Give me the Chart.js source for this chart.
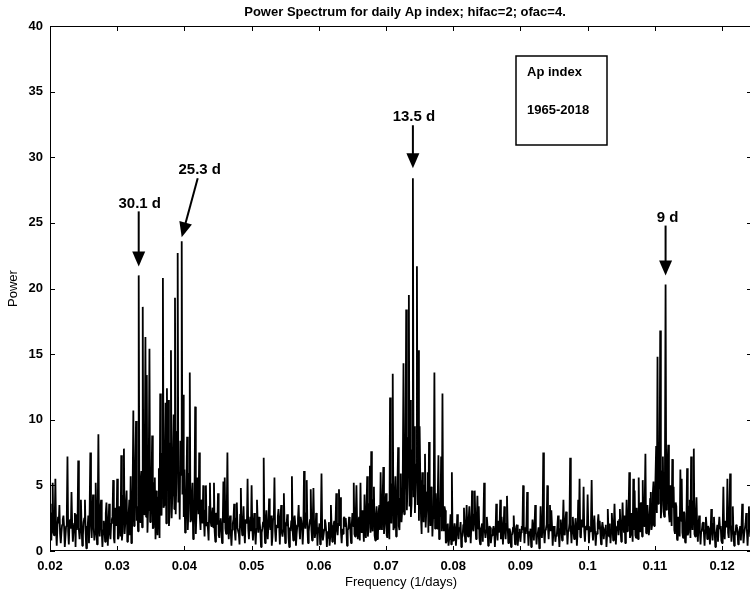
<!DOCTYPE html>
<html><head><meta charset="utf-8">
<script src="https://cdn.jsdelivr.net/npm/chart.js@4.4.1/dist/chart.umd.min.js"></script>
<style>
html,body{margin:0;padding:0;background:#fff;overflow:hidden;width:750px;height:597px}
#wrap{position:relative;width:753px;height:597px}
canvas{display:block}
</style></head><body>
<div id="wrap"><canvas id="c" width="753" height="597"></canvas></div>
<script>
// frequency bands (1/days); each band holds power values sampled every 0.0001 1/days
const bandStarts = [0.02,0.03,0.04,0.05,0.06,0.07,0.08,0.09,0.10,0.11,0.12];
const freqStep = 0.0001;
const band0 = [3.6,1.9,0.8,2.9,5.2,1.4,1.2,2.3,5.5,1.6,0.4,1.8,2.6,2.1,3.5,1.3,0.6,1.4,2.0,2.4,
2.7,1.8,0.3,1.1,1.9,2.6,7.2,1.5,0.5,2.2,2.4,1.7,4.5,2.0,0.7,1.5,2.1,2.9,0.3,2.8,
1.6,2.2,6.9,1.6,0.9,1.7,3.9,1.9,0.4,1.2,2.2,2.5,3.9,1.4,0.2,1.9,1.8,2.7,0.6,3.1,
7.5,2.1,1.0,2.5,4.3,1.8,0.8,1.3,5.2,2.4,0.5,2.7,8.9,1.9,1.1,3.2,3.9,1.5,0.3,1.6,
2.3,1.7,0.7,2.9,3.7,2.2,0.4,1.8,3.6,1.4,0.9,2.1,2.4,2.6,5.4,1.0,0.6,3.3,2.8,1.9];
const band1 = [5.5,0.9,1.0,3.4,3.2,1.1,7.3,0.8,1.5,4.2,7.8,1.3,2.1,3.6,4.6,0.7,0.9,2.8,3.9,1.2,
5.7,0.6,1.4,4.8,10.7,1.9,2.6,6.4,9.9,2.3,3.4,1.5,21.0,2.7,2.2,5.3,6.1,1.8,18.6,3.0,
2.8,7.1,16.3,2.6,13.4,1.4,3.1,6.8,15.4,2.2,2.5,4.9,8.8,1.7,1.8,5.2,5.6,0.9,4.6,2.4,
1.2,4.1,6.3,1.0,12.0,2.9,2.7,7.4,20.8,3.3,3.5,6.5,11.3,2.1,12.4,4.6,11.5,1.9,3.0,8.2,
15.3,2.5,4.2,6.9,10.4,3.2,19.3,2.8,5.1,9.1,22.7,3.7,6.0,2.4,8.4,5.8,23.6,4.3,11.9,2.6];
const band2 = [6.2,1.4,2.0,4.7,8.7,1.6,3.1,5.9,13.6,2.2,2.4,4.1,5.2,0.9,1.8,3.8,11.0,1.3,2.9,5.6,
4.5,2.8,7.5,2.6,1.6,3.9,3.8,2.1,5.0,2.4,1.1,3.1,5.0,1.9,2.2,1.7,0.8,3.4,5.2,2.3,
1.9,2.7,3.3,1.8,5.2,1.5,0.7,2.9,2.8,2.0,4.4,1.2,1.0,2.3,2.5,1.6,0.6,1.9,5.3,2.2,
5.6,1.7,1.3,3.0,7.5,1.9,0.9,2.2,2.7,1.4,0.4,1.6,2.1,2.4,3.6,1.5,0.8,2.5,3.7,1.8,
1.5,1.3,0.5,2.8,4.8,2.0,1.2,1.9,3.4,1.6,0.6,2.4,2.3,2.1,5.5,1.7,0.9,2.0,2.6,1.5];
const band3 = [5.0,1.8,0.8,2.1,2.9,1.5,0.5,1.7,3.9,2.3,1.4,2.6,2.2,1.6,0.3,1.4,1.7,2.2,7.1,1.9,
0.6,2.3,3.1,1.7,0.9,1.9,4.0,2.2,1.6,2.7,0.4,1.1,2.5,2.4,5.6,1.5,0.7,2.0,1.8,2.6,
3.2,1.9,0.5,2.5,3.5,1.4,1.1,1.6,4.4,2.1,0.6,2.2,1.9,2.8,2.4,1.0,0.3,1.8,1.5,2.3,
5.7,1.6,0.8,2.4,2.7,2.0,0.4,1.3,1.9,2.5,3.5,1.7,0.9,2.6,2.3,1.8,0.5,1.7,6.1,2.2,
1.7,2.9,5.4,1.9,0.6,1.5,2.0,2.4,4.7,1.6,0.8,2.2,4.8,2.0,1.0,1.4,2.9,2.3,0.4,1.8];
const band4 = [1.4,2.1,0.5,1.9,5.9,1.7,0.8,1.2,1.6,2.4,2.1,1.5,0.3,1.5,1.0,2.2,0.4,1.1,3.5,1.8,
0.7,1.8,2.0,2.3,0.5,2.4,4.4,1.6,1.2,2.1,4.7,1.9,4.1,1.4,0.6,1.7,1.3,2.5,2.6,1.9,
2.5,1.8,0.4,1.6,1.7,2.6,2.4,1.5,0.6,2.0,2.9,1.9,5.2,1.3,1.1,2.8,5.0,2.1,0.9,2.3,
2.6,0.8,5.2,1.5,1.4,3.1,2.2,0.7,4.3,1.9,1.0,3.3,5.7,1.1,1.8,3.6,6.5,1.4,7.6,2.2,
1.5,3.9,4.9,1.2,0.8,2.7,3.4,0.9,1.2,3.0,3.5,1.6,6.0,2.1,1.6,4.0,6.4,1.3,2.0,3.5];
const band5 = [4.4,1.2,1.0,3.7,3.8,0.9,11.7,2.4,2.1,5.1,13.5,1.6,1.8,4.3,5.7,1.1,2.4,4.8,7.9,1.9,
1.6,4.0,5.9,2.2,3.0,6.3,14.3,2.8,4.2,7.0,18.4,3.1,5.0,8.6,19.5,3.4,11.5,2.6,3.6,7.7,
28.4,4.1,9.5,2.9,4.8,6.6,21.7,3.5,15.3,2.3,9.5,5.4,2.7,1.3,6.0,3.2,2.2,5.0,7.4,1.8,
3.1,4.5,6.0,1.4,8.3,3.6,1.9,4.9,4.4,1.1,2.5,3.8,13.6,1.7,4.4,2.9,1.7,4.2,7.3,0.9,
3.3,2.6,7.2,1.5,12.0,2.3,1.5,3.4,3.1,0.6,0.7,2.0,2.1,0.4,0.9,1.7,2.8,0.5,6.0,1.2];
const band6 = [0.8,1.5,2.1,1.7,0.4,1.2,2.8,1.9,0.9,1.8,1.6,2.2,0.3,1.0,1.2,2.0,3.3,1.4,0.7,2.0,
3.5,1.6,1.1,2.4,3.4,2.0,0.6,1.9,4.6,1.8,1.5,2.8,4.6,2.1,0.9,2.2,4.2,1.7,3.4,1.0,
0.5,1.7,1.8,2.1,0.7,2.5,5.2,1.5,1.0,1.6,2.6,1.9,0.4,1.3,1.9,1.8,0.6,1.1,1.2,1.6,
1.9,1.5,0.3,1.4,3.6,1.8,0.8,2.3,1.4,2.0,3.9,0.9,2.6,1.7,0.5,1.8,3.4,1.6,0.9,2.1,
4.2,1.9,0.6,1.6,1.7,1.4,0.3,1.2,1.3,1.8,2.7,1.5,0.5,1.5,1.9,2.0,0.4,1.1,1.4,1.7];
const band7 = [0.7,1.4,1.9,1.6,5.0,1.9,0.6,1.8,1.3,2.0,4.5,1.5,0.4,1.5,1.2,1.7,0.3,1.1,2.4,1.8,
0.8,1.9,3.5,1.5,0.5,1.3,1.4,1.8,0.2,0.9,3.4,1.6,1.0,2.2,7.5,1.4,0.6,1.6,1.7,2.0,
5.0,1.8,0.9,2.0,3.5,1.5,3.1,1.9,0.4,1.4,1.9,1.6,0.7,1.2,1.1,1.9,2.7,1.3,0.3,1.7,
2.4,1.7,0.8,1.9,3.9,1.4,1.2,2.3,3.0,1.8,0.5,1.5,1.6,2.1,7.1,1.6,0.6,1.9,2.6,1.5,
0.9,1.7,2.5,1.9,0.4,1.4,3.9,1.6,5.5,1.1,1.0,2.4,2.1,1.8,4.9,1.5,0.7,1.8,1.9,1.6];
const band8 = [4.3,1.9,0.6,1.8,1.5,2.2,5.4,1.6,0.8,2.0,2.7,1.5,0.4,1.3,1.3,2.1,2.8,1.7,2.3,1.4,
0.5,1.7,2.2,1.8,0.9,1.5,1.6,2.0,0.3,1.2,3.2,1.6,1.1,2.1,0.6,1.4,2.9,1.9,0.8,1.9,
3.6,1.8,0.5,1.6,1.9,2.3,1.2,2.4,3.2,1.7,0.7,1.8,3.7,2.0,1.4,2.7,0.6,1.9,3.9,1.5,
1.8,3.1,6.0,1.0,1.2,2.9,2.4,0.7,5.5,1.6,4.6,1.2,1.0,3.3,2.3,0.9,5.6,1.5,1.5,3.6,
3.7,1.1,5.4,2.0,1.9,3.8,7.4,1.4,1.3,3.5,2.6,1.2,1.7,4.0,4.5,1.6,2.0,4.4,5.3,1.9];
const band9 = [2.4,5.6,8.0,2.9,14.8,3.6,8.2,4.7,16.8,2.5,3.5,6.1,7.2,3.0,2.6,5.4,20.3,3.2,3.1,6.7,
8.1,2.8,2.2,5.0,4.0,1.9,7.0,3.3,4.9,1.6,1.3,3.7,3.4,0.9,0.8,2.6,2.1,1.1,6.2,2.3,
5.5,1.4,1.0,3.0,2.9,0.7,0.6,2.2,6.3,1.2,1.4,3.4,3.9,1.0,7.2,2.5,1.6,3.8,7.8,1.3,
1.1,2.7,4.1,1.8,0.7,2.0,2.7,1.6,0.5,1.5,1.6,2.1,2.2,1.4,0.4,1.6,2.6,1.9,0.9,1.9,
1.8,1.6,0.5,1.4,3.2,1.9,0.8,2.1,2.6,1.5,0.3,1.2,1.5,2.0,0.7,1.8,2.6,1.7,1.9,0.8];
const band10 = [0.6,1.7,4.9,1.6,0.9,2.3,2.2,1.8,5.5,1.4,1.0,2.6,5.9,1.9,0.7,1.9,3.4,1.5,0.4,1.5,
1.2,2.0,1.9,1.6,0.5,1.4,1.5,1.9,0.8,1.8,3.6,1.7,0.6,1.3,1.3,2.1,2.9,1.6,0.4,1.6,
3.4,1.9,1.1,2.2,2.0];
const bands = [band0,band1,band2,band3,band4,band5,band6,band7,band8,band9,band10];

const xTickValues = [0.02,0.03,0.04,0.05,0.06,0.07,0.08,0.09,0.10,0.11,0.12];
const xTickLabels = ['0.02','0.03','0.04','0.05','0.06','0.07','0.08','0.09','0.1','0.11','0.12'];
const yTickValues = [0,5,10,15,20,25,30,35,40];

const annLabels = ['30.1 d','25.3 d','13.5 d','9 d'];
const annFreq = [0.0332,0.0396,0.0740,0.1116];
const annPower = [21.0,23.6,28.4,20.3];
const boxLines = ['Ap index','1965-2018'];
const titleText = 'Power Spectrum for daily Ap index; hifac=2; ofac=4.';

// styling (pixel offsets) for the arrows
const annStyle = [
  {gap:9, tail:[0,-55], text:[1,-63]},
  {gap:4, tail:[16,-59], text:[18,-67]},
  {gap:10, tail:[0,-43], text:[1,-51]},
  {gap:9, tail:[0,-50], text:[2,-58]}
];

const points = [];
bands.forEach((b, k) => {
  b.forEach((v, i) => points.push({x: bandStarts[k] + i * freqStep, y: v}));
});

const FONT = '"Liberation Sans", Arial, Helvetica, sans-serif';

const decor = {
  id: 'decor',
  afterDraw(chart) {
    const ctx = chart.ctx;
    const a = chart.chartArea;
    const xs = chart.scales.x, ys = chart.scales.y;
    ctx.save();
    ctx.strokeStyle = '#000';
    ctx.lineWidth = 1;
    ctx.strokeRect(a.left + 0.5, a.top + 0.5, a.right - a.left - 1, a.bottom - a.top - 1);
    const tl = 5;
    ctx.beginPath();
    xTickValues.forEach(v => {
      const px = Math.round(xs.getPixelForValue(v)) + 0.5;
      ctx.moveTo(px, a.bottom); ctx.lineTo(px, a.bottom - tl);
      ctx.moveTo(px, a.top); ctx.lineTo(px, a.top + tl);
    });
    yTickValues.forEach(v => {
      const py = Math.round(ys.getPixelForValue(v)) + 0.5;
      ctx.moveTo(a.left, py); ctx.lineTo(a.left + tl, py);
      ctx.moveTo(a.right, py); ctx.lineTo(a.right - tl, py);
    });
    ctx.stroke();
    ctx.fillStyle = '#000';
    ctx.font = 'bold 13px ' + FONT;
    ctx.textAlign = 'center';
    ctx.textBaseline = 'middle';
    ctx.fillText(titleText, 405, 12);
    annLabels.forEach((lab, i) => {
      const st = annStyle[i];
      const tx = xs.getPixelForValue(annFreq[i]);
      const ty = ys.getPixelForValue(annPower[i]) - st.gap;
      const sx = tx + st.tail[0], sy = ty + st.tail[1];
      const dx = tx - sx, dy = ty - sy;
      const len = Math.hypot(dx, dy);
      const ux = dx / len, uy = dy / len;
      const hl = 15, hw = 6.5;
      const bx = tx - ux * hl, by = ty - uy * hl;
      ctx.lineWidth = 2;
      ctx.beginPath();
      ctx.moveTo(sx, sy); ctx.lineTo(bx + ux * 2, by + uy * 2);
      ctx.stroke();
      ctx.beginPath();
      ctx.moveTo(tx, ty);
      ctx.lineTo(bx - uy * hw, by + ux * hw);
      ctx.lineTo(bx + uy * hw, by - ux * hw);
      ctx.closePath();
      ctx.fill();
      ctx.font = 'bold 15px ' + FONT;
      ctx.textAlign = 'center';
      ctx.textBaseline = 'middle';
      ctx.fillText(lab, tx + st.text[0], ty + st.text[1]);
    });
    ctx.lineWidth = 1.5;
    ctx.fillStyle = '#fff';
    ctx.fillRect(516, 56, 91, 89);
    ctx.strokeRect(516, 56, 91, 89);
    ctx.fillStyle = '#000';
    ctx.font = 'bold 13px ' + FONT;
    ctx.textAlign = 'left';
    ctx.textBaseline = 'middle';
    ctx.fillText(boxLines[0], 527, 72);
    ctx.fillText(boxLines[1], 527, 110);
    ctx.restore();
  }
};

new Chart(document.getElementById('c'), {
  type: 'line',
  data: {
    datasets: [{
      data: points,
      borderColor: '#000',
      borderWidth: 1.8,
      borderJoinStyle: 'bevel',
      pointRadius: 0,
      tension: 0,
      fill: false
    }]
  },
  options: {
    responsive: false,
    animation: false,
    devicePixelRatio: 1,
    layout: {padding: {top: 26, right: 1, left: 0, bottom: 0}},
    plugins: {legend: {display: false}, tooltip: {enabled: false}, title: {display: false}},
    scales: {
      x: {
        type: 'linear',
        min: 0.02,
        max: 0.12446,
        afterBuildTicks: s => { s.ticks = xTickValues.map(v => ({value: v})); },
        afterFit: s => { s.height = 46; },
        grid: {display: false, drawTicks: false},
        border: {display: false},
        ticks: {
          padding: 8,
          color: '#000',
          maxRotation: 0,
          autoSkip: false,
          font: {family: FONT, size: 13, weight: 'bold'},
          callback: (v, i) => xTickLabels[i]
        },
        title: {display: true, text: 'Frequency (1/days)', color: '#000',
          font: {family: FONT, size: 13}, padding: {top: 0, bottom: 7}}
      },
      y: {
        type: 'linear',
        min: 0,
        max: 40,
        afterBuildTicks: s => { s.ticks = yTickValues.map(v => ({value: v})); },
        afterFit: s => { s.width = 50; },
        grid: {display: false, drawTicks: false},
        border: {display: false},
        ticks: {
          padding: 7,
          color: '#000',
          autoSkip: false,
          font: {family: FONT, size: 13, weight: 'bold'},
          callback: v => String(v)
        },
        title: {display: true, text: 'Power', color: '#000',
          font: {family: FONT, size: 13}, padding: {top: 6, bottom: 0}}
      }
    }
  },
  plugins: [decor]
});
</script>
</body></html>
